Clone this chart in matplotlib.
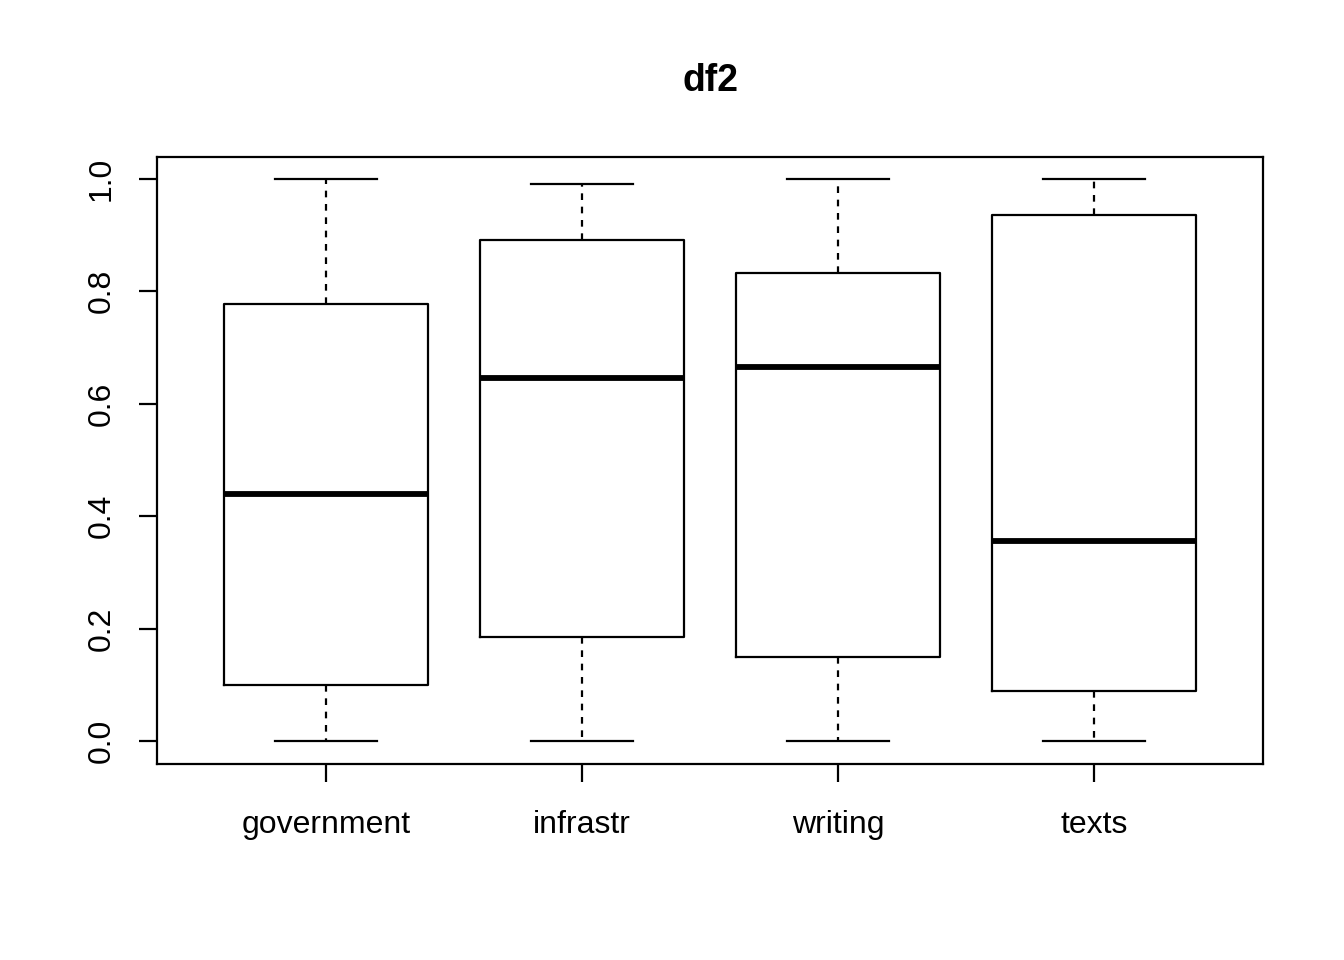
import matplotlib
matplotlib.use("Agg")
import matplotlib.pyplot as plt

plt.rcParams['font.family'] = ['Liberation Sans', 'DejaVu Sans']

# box statistics
names = ["government", "infrastr", "writing", "texts"]
whislo = [0.0, 0.0, 0.0, 0.0]
q1 = [0.100, 0.185, 0.149, 0.089]
med = [0.440, 0.646, 0.665, 0.356]
q3 = [0.778, 0.891, 0.833, 0.936]
whishi = [1.0, 0.991, 1.0, 1.0]

stats = []
for i in range(len(names)):
    stats.append(dict(label=names[i], whislo=whislo[i], q1=q1[i], med=med[i],
                      q3=q3[i], whishi=whishi[i], fliers=[]))

fig = plt.figure(figsize=(13.44, 9.6), dpi=100)
ax = fig.add_axes([157/1344, 1-764/960, (1263-157)/1344, (764-157)/960])

lw = 1.6
ax.bxp(stats, positions=[1, 2, 3, 4], widths=0.8, showfliers=False,
       boxprops=dict(color='black', linewidth=lw),
       whiskerprops=dict(color='black', linewidth=lw, linestyle=(0, (3, 3))),
       capprops=dict(color='black', linewidth=lw),
       medianprops=dict(color='black', linewidth=4.2, solid_capstyle='butt'),
       capwidths=0.4)

ax.set_xlim(0.34, 4.66)
ax.set_ylim(-0.041, 1.039)
ax.set_yticks([0.0, 0.2, 0.4, 0.6, 0.8, 1.0])
ax.set_yticklabels(["0.0", "0.2", "0.4", "0.6", "0.8", "1.0"], rotation=90, va='center')
ax.set_xticks([1, 2, 3, 4])
ax.set_xticklabels(names)
ax.tick_params(axis='both', length=13, width=lw, labelsize=23, color='black')
ax.tick_params(axis='x', pad=20)
ax.tick_params(axis='y', pad=16)
for s in ax.spines.values():
    s.set_linewidth(lw)

fig.text(710/1344, 1-81/960, "df2", ha='center', va='center', fontsize=27, fontweight='bold')

fig.savefig("out.png", dpi=100)
